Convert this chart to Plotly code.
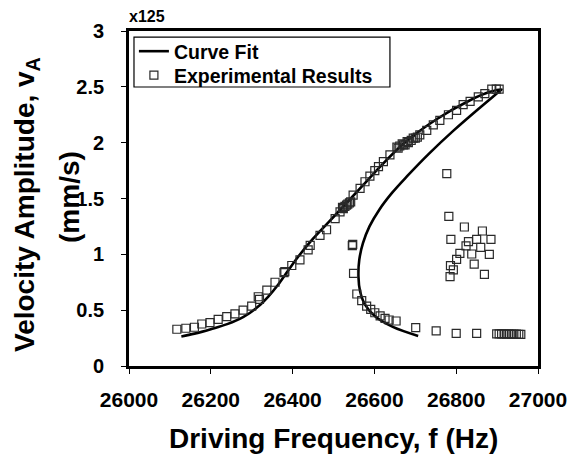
import plotly.graph_objects as go

# Curve fit: upper branch up to the jump point, then back down the lower branch
fit_freq = [26128, 26160, 26200, 26240, 26280, 26315, 26340, 26365, 26390, 26415,
            26450, 26491, 26532, 26570, 26600, 26671, 26752, 26834, 26883, 26911,
            26899, 26860, 26794, 26733, 26680, 26643, 26612, 26588, 26572, 26563,
            26561, 26565, 26577, 26603, 26645, 26707]
fit_vel = [0.265, 0.29, 0.33, 0.375, 0.44, 0.53, 0.62, 0.73, 0.86, 0.985,
           1.14, 1.30, 1.46, 1.61, 1.73, 1.99, 2.21, 2.38, 2.455, 2.477,
           2.44, 2.32, 2.11, 1.90, 1.70, 1.55, 1.40, 1.25, 1.10, 0.95,
           0.80, 0.67, 0.55, 0.44, 0.35, 0.269]

# Measured points: upward sweep
up_freq = [26117, 26139, 26160, 26178, 26198, 26218, 26239, 26259, 26279, 26300,
           26316, 26319, 26337, 26357, 26379, 26381, 26398, 26418, 26438, 26443,
           26467, 26483, 26504, 26516, 26522, 26524, 26528, 26532, 26535, 26539,
           26542, 26548, 26565, 26577, 26589, 26601, 26610, 26622, 26638, 26655,
           26658, 26662, 26668, 26671, 26675, 26680, 26683, 26690, 26695, 26700,
           26705, 26711, 26728, 26744, 26760, 26781, 26801, 26817, 26834, 26854,
           26870, 26887, 26898, 26905]
up_vel = [0.329, 0.338, 0.347, 0.376, 0.388, 0.418, 0.442, 0.466, 0.50, 0.537,
          0.62, 0.597, 0.68, 0.75, 0.836, 0.845, 0.90, 0.95, 1.04, 1.08,
          1.17, 1.22, 1.32, 1.38, 1.42, 1.41, 1.43, 1.44, 1.45, 1.46,
          1.47, 1.53, 1.59, 1.65, 1.70, 1.75, 1.785, 1.83, 1.89, 1.96,
          1.95, 1.97, 1.99, 1.98, 1.98, 2.01, 2.00, 2.02, 2.04, 2.04,
          2.05, 2.07, 2.11, 2.16, 2.20, 2.25, 2.29, 2.34, 2.37, 2.41,
          2.44, 2.48, 2.48, 2.48]

# Measured points: lower branch and high-frequency tail
low_freq = [26546, 26547, 26549, 26557, 26569, 26581, 26591, 26601, 26614, 26626,
            26636, 26653, 26701, 26751, 26800, 26850,
            26899, 26905, 26911, 26917, 26923, 26929, 26935, 26941, 26947, 26953, 26958]
low_vel = [1.078, 1.09, 0.83, 0.645, 0.585, 0.537, 0.507, 0.477, 0.448, 0.427,
           0.412, 0.403, 0.343, 0.315, 0.293, 0.293,
           0.288, 0.288, 0.287, 0.288, 0.286, 0.287, 0.286, 0.285, 0.285, 0.284, 0.283]

# Measured points: scattered region past the jump
scat_freq = [26777, 26782, 26820, 26864, 26787, 26830, 26850, 26885, 26824, 26860,
             26809, 26838, 26881, 26801, 26786, 26793, 26844, 26785, 26869]
scat_vel = [1.722, 1.34, 1.245, 1.209, 1.134, 1.113, 1.134, 1.134, 1.075, 1.063,
            1.009, 1.003, 1.000, 0.955, 0.898, 0.86, 0.913, 0.80, 0.82]

exp_freq = up_freq + low_freq + scat_freq
exp_vel = up_vel + low_vel + scat_vel

x_ticks = [26000, 26200, 26400, 26600, 26800, 27000]
y_ticks = [0, 0.5, 1, 1.5, 2, 2.5, 3]

FONT = "Liberation Sans, Arial, sans-serif"
LEG_FONT = dict(family=FONT, size=19.5, color="black", weight="bold")

fig = go.Figure()
fig.add_trace(go.Scatter(
    x=fit_freq, y=fit_vel, mode="lines", name="Curve Fit", legend="legend",
    line=dict(color="black", width=2.6, shape="spline", smoothing=1.0),
))
fig.add_trace(go.Scatter(
    x=exp_freq, y=exp_vel, mode="markers", name="Experimental Results", legend="legend2",
    marker=dict(symbol="square-open", size=8, color="#2a2a2a", line=dict(width=1.2)),
))

axis_common = dict(
    showline=True, linecolor="black", linewidth=2.8, mirror=True,
    ticks="outside", ticklen=5, tickwidth=1.2, tickcolor="black",
    showgrid=False, zeroline=False,
)

fig.update_xaxes(range=[26000, 27000], tickvals=x_ticks,
                 ticktext=[str(v) for v in x_ticks], ticklabelstandoff=8,
                 tickfont=dict(family=FONT, size=21, color="black", weight="bold"),
                 **axis_common)
fig.update_yaxes(range=[0, 3], tickvals=y_ticks,
                 ticktext=[("%g" % v) for v in y_ticks], ticklabelstandoff=13,
                 tickfont=dict(family=FONT, size=20, color="black", weight="bold"),
                 **axis_common)

# legend entries, one per row, inside a single framed box
leg_common = dict(xref="paper", yref="paper", xanchor="left", yanchor="middle",
                  bgcolor="rgba(0,0,0,0)", borderwidth=0, font=LEG_FONT, itemwidth=30)

fig.update_layout(
    width=578, height=455,
    margin=dict(l=129, r=40, t=31, b=89),
    paper_bgcolor="white", plot_bgcolor="white",
    font=dict(family=FONT, color="black", weight="bold"),
    showlegend=True,
    legend=dict(x=0.012, y=0.9388, **leg_common),
    legend2=dict(x=0.012, y=0.8672, **leg_common),
    shapes=[dict(type="rect", xref="paper", yref="paper",
                 x0=0.0122, x1=0.638, y0=0.8328, y1=0.982,
                 line=dict(color="black", width=1.2), fillcolor="rgba(0,0,0,0)",
                 layer="above")],
    annotations=[
        dict(text="Driving Frequency, f (Hz)", xref="paper", yref="paper",
             x=0.501, y=-0.215, xanchor="center", yanchor="middle", showarrow=False,
             font=dict(family=FONT, size=28, color="black", weight="bold")),
        dict(text="Velocity Amplitude, v<sub>A</sub>", xref="paper", yref="paper",
             x=-0.2494, y=0.4836, xanchor="center", yanchor="middle", showarrow=False,
             textangle=-90,
             font=dict(family=FONT, size=28, color="black", weight="bold")),
        dict(text="(mm/s)", xref="paper", yref="paper",
             x=-0.1443, y=0.5045, xanchor="center", yanchor="middle", showarrow=False,
             textangle=-90,
             font=dict(family=FONT, size=28, color="black", weight="bold")),
        dict(text="x125", xref="paper", yref="paper",
             x=-0.005, y=1.0418, xanchor="left", yanchor="middle", showarrow=False,
             font=dict(family=FONT, size=16, color="black", weight="bold")),
    ],
)

fig.write_html("out.html")
